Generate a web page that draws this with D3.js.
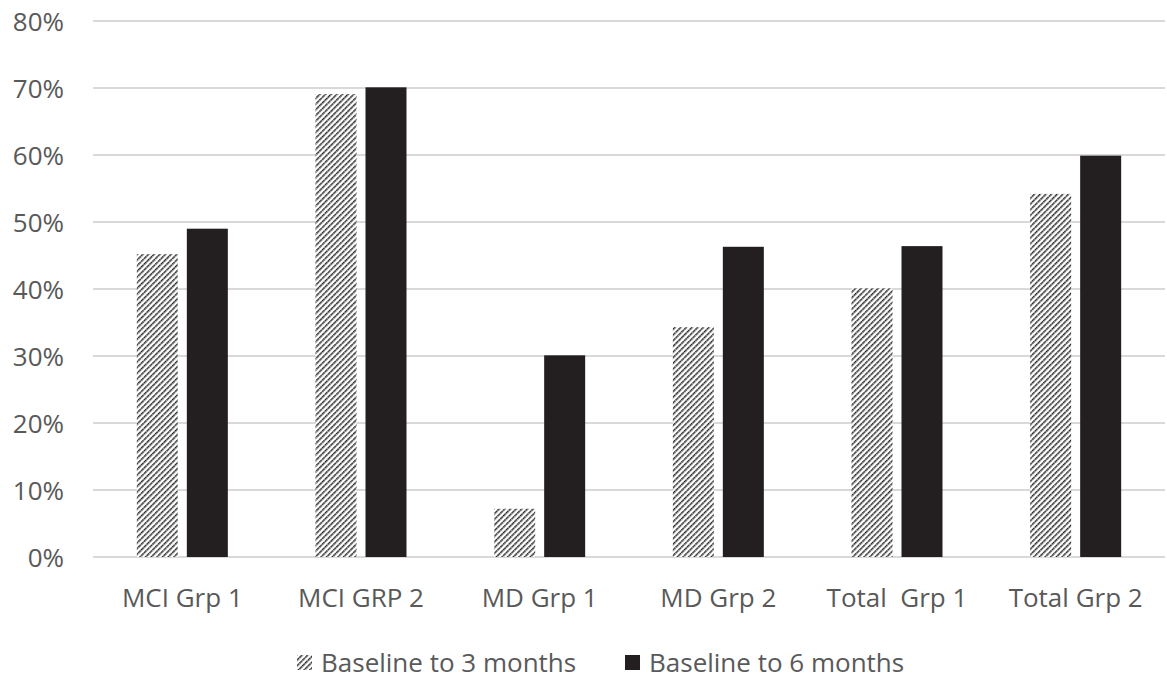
<!DOCTYPE html>
<html><head><meta charset="utf-8">
<script src="https://cdn.jsdelivr.net/npm/d3@7/dist/d3.min.js"></script>
<style>body{margin:0;background:#fff}svg{display:block}</style>
</head><body><svg id="c" width="1167" height="681"></svg>
<script>
const categories = ["MCI Grp 1","MCI GRP 2","MD Grp 1","MD Grp 2","Total  Grp 1","Total Grp 2"];
const seriesNames = ["Baseline to 3 months","Baseline to 6 months"];
const base3 = [0.452, 0.691, 0.072, 0.343, 0.401, 0.542];
const base6 = [0.490, 0.701, 0.301, 0.463, 0.464, 0.599];
const yTicks = [0,0.1,0.2,0.3,0.4,0.5,0.6,0.7,0.8];

const svg = d3.select("#c");
const font = "'Open Sans', Lato, sans-serif";
const textColor = "#595959";
const fs = 26;
const L = 93, R = 1165, T = 21, B = 557;

const defs = svg.append("defs");
const pat = defs.append("pattern").attr("id","hatch").attr("patternUnits","userSpaceOnUse")
  .attr("width",4).attr("height",4).attr("patternTransform","rotate(45)");
pat.append("rect").attr("width",4).attr("height",4).attr("fill","#fff");
pat.append("line").attr("x1",0.5).attr("y1",0).attr("x2",0.5).attr("y2",4)
  .attr("stroke","#1a1a1a").attr("stroke-width",2.2).attr("stroke-dasharray","1.6,0.5");

const x = d3.scaleBand().domain(categories).range([L,R]);
const y = d3.scaleLinear().domain([0,0.8]).range([B,T]);
const barW = 41, off = 25;

// gridlines
svg.append("g").selectAll("line").data(yTicks).join("line")
  .attr("x1",L).attr("x2",R).attr("y1",d=>y(d)).attr("y2",d=>y(d))
  .attr("stroke","#d9d9d9").attr("stroke-width",2);

// y axis labels
const yAxis = d3.axisLeft(y).tickValues(yTicks).tickFormat(d3.format(".0%")).tickSize(0).tickPadding(0);
const ya = svg.append("g").attr("transform","translate(64,0)").call(yAxis);
ya.select(".domain").remove();
ya.selectAll("text").attr("font-family",font).attr("font-size",fs).attr("fill",textColor).attr("dy","0.35em");

// bars
const data = categories.map((c,i)=>({c, a:base3[i], b:base6[i]}));
svg.append("g").selectAll("rect").data(data).join("rect")
  .attr("x",d=>x(d.c)+x.bandwidth()/2-off-barW/2).attr("width",barW)
  .attr("y",d=>y(d.a)).attr("height",d=>y(0)-y(d.a)).attr("fill","url(#hatch)");
svg.append("g").selectAll("rect").data(data).join("rect")
  .attr("x",d=>x(d.c)+x.bandwidth()/2+off-barW/2).attr("width",barW)
  .attr("y",d=>y(d.b)).attr("height",d=>y(0)-y(d.b)).attr("fill","#231f20");

// x axis labels
const xAxis = d3.axisBottom(x).tickSize(0).tickPadding(0);
const xa = svg.append("g").attr("transform",`translate(0,${B+41})`).call(xAxis);
xa.select(".domain").remove();
xa.selectAll("text").attr("font-family",font).attr("font-size",fs).attr("fill",textColor)
  .attr("dy","0.35em").style("white-space","pre");

// legend
const leg = svg.append("g");
const items = [{n:seriesNames[0], f:"url(#hatch)", x:297},{n:seriesNames[1], f:"#231f20", x:625}];
items.forEach(it=>{
  leg.append("rect").attr("x",it.x).attr("y",655).attr("width",15).attr("height",15).attr("fill",it.f);
  leg.append("text").attr("x",it.x+24).attr("y",663).attr("dy","0.35em")
    .attr("font-family",font).attr("font-size",fs).attr("fill",textColor).text(it.n);
});
</script></body></html>
